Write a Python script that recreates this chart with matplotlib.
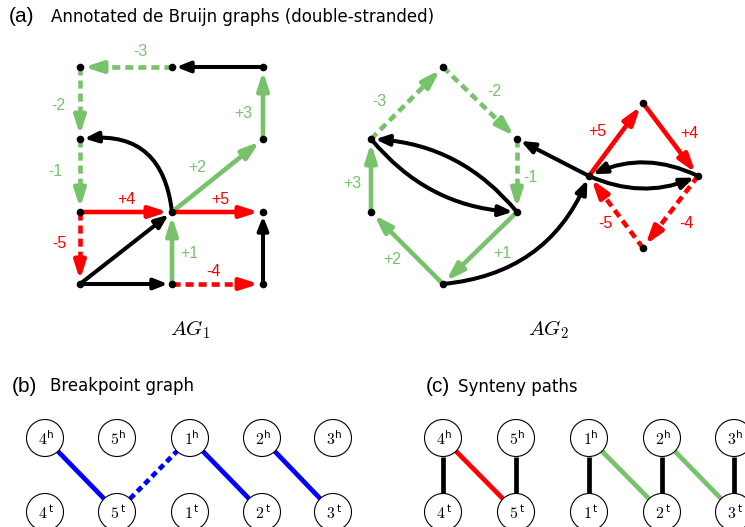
import numpy as np
import matplotlib
matplotlib.use('Agg')
import matplotlib.pyplot as plt
from matplotlib.patches import FancyArrowPatch, Circle

plt.rcParams['mathtext.fontset'] = 'cm'
plt.rcParams['lines.scale_dashes'] = False

GREEN = '#77c26b'
RED = '#ff0000'
BLUE = '#0000ff'
BLACK = '#000000'
COLORS = {'g': GREEN, 'r': RED, 'k': BLACK, 'b': BLUE}

# ---------------- data ----------------
# AG1: nodes
ag1_names = ['A', 'B', 'C', 'D', 'E', 'F', 'G', 'H', 'I', 'J', 'K']
ag1_x = [80, 172, 263, 80, 263, 80, 172, 263, 80, 172, 263]
ag1_y = [67, 67, 67, 139, 139, 212, 212, 212, 284, 284, 284]
# AG1 edges: source, target, label, colour, dashed, curvature
ag1_src = ['C', 'B', 'A', 'D', 'G', 'G', 'E', 'F', 'G', 'F', 'I', 'J', 'I', 'J', 'K']
ag1_dst = ['B', 'A', 'D', 'F', 'D', 'E', 'C', 'G', 'H', 'I', 'G', 'G', 'J', 'K', 'H']
ag1_lab = ['', '-3', '-2', '-1', '', '+2', '+3', '+4', '+5', '-5', '', '+1', '', '-4', '']
ag1_col = ['k', 'g', 'g', 'g', 'k', 'g', 'g', 'r', 'r', 'r', 'k', 'g', 'k', 'r', 'k']
ag1_dash = [0, 1, 1, 1, 0, 0, 0, 0, 0, 1, 0, 0, 0, 1, 0]
ag1_rad = [0, 0, 0, 0, 0.5, 0, 0, 0, 0, 0, 0, 0, 0, 0, 0]
ag1_lab_xy = [None, (140, 52), (58, 105), (55, 171), None, (197, 167), (243, 113),
              (126, 199), (220, 199), (59, 244), None, (189, 254), None, (213, 271), None]

# AG2: nodes
ag2_names = ['P', 'Q', 'R', 'S', 'T', 'U', 'V', 'W', 'X', 'Y']
ag2_x = [443, 371, 517, 371, 517, 443, 589, 643, 698, 643]
ag2_y = [67, 139, 139, 212, 212, 284, 176, 103, 176, 248]
ag2_src = ['Q', 'P', 'R', 'T', 'Q', 'T', 'U', 'S', 'U', 'V', 'V', 'W', 'X', 'V', 'X', 'Y']
ag2_dst = ['P', 'R', 'T', 'Q', 'T', 'U', 'S', 'Q', 'V', 'R', 'W', 'X', 'V', 'X', 'Y', 'V']
ag2_lab = ['-3', '-2', '-1', '', '', '+1', '+2', '+3', '', '', '+5', '+4', '', '', '-4', '-5']
ag2_col = ['g', 'g', 'g', 'k', 'k', 'g', 'g', 'g', 'k', 'k', 'r', 'r', 'k', 'k', 'r', 'r']
ag2_dash = [1, 1, 1, 0, 0, 0, 0, 0, 0, 0, 0, 0, 0, 0, 1, 1]
ag2_rad = [0, 0, 0, 0.22, 0.22, 0, 0, 0, 0.3, 0, 0, 0, 0.24, 0.22, 0, 0]
ag2_lab_xy = [(379, 101), (494, 92), (530, 177), None, None, (502, 253), (392, 260),
              (352, 183), None, None, (597, 132), (689, 133), None, None, (686, 223), (605, 224)]

# Breakpoint graph / synteny paths
genes = ['4', '5', '1', '2', '3']
bp_x = [45, 117, 190, 262, 333]
sy_x = [443, 516, 589, 662, 734]
row_y = {'h': 438, 't': 512}
bp_edges = [('4h', '5t', 'b', 0), ('5t', '1h', 'b', 1), ('1h', '2t', 'b', 0), ('2h', '3t', 'b', 0)]
sy_edges = [('4h', '4t', 'k', 0), ('4h', '5t', 'r', 0), ('5h', '5t', 'k', 0), ('1h', '1t', 'k', 0),
            ('1h', '2t', 'g', 0), ('2h', '2t', 'k', 0), ('2h', '3t', 'g', 0), ('3h', '3t', 'k', 0)]

# ---------------- drawing ----------------
fig = plt.figure(figsize=(7.45, 5.27), dpi=100)
ax = fig.add_axes([0, 0, 1, 1])
ax.set_xlim(0, 745)
ax.set_ylim(527, 0)
ax.axis('off')

PX = 0.72  # points per pixel
SHRINK = 3.0


def draw_edge(p0, p1, color, dashed, rad):
    if color == BLACK:
        lw, hl, hw = 2.9, 8.0, 3.2
    else:
        lw, hl, hw = 3.3, 10.5, 3.4
    style = f'-|>,head_length={hl},head_width={hw}'
    if not dashed:
        a = FancyArrowPatch(p0, p1, arrowstyle=style, connectionstyle=f'arc3,rad={rad}',
                            mutation_scale=1, color=color, lw=lw, shrinkA=0, shrinkB=SHRINK,
                            zorder=2)
        ax.add_patch(a)
    else:
        p0 = np.array(p0, float)
        p1 = np.array(p1, float)
        d = p1 - p0
        u = d / np.hypot(*d)
        back = hl / PX + SHRINK / PX + 1.0
        pm = p1 - u * back
        ax.plot([p0[0], pm[0]], [p0[1], pm[1]], color=color, lw=lw, dashes=(5.8, 3.6),
                dash_capstyle='butt', zorder=2)
        a = FancyArrowPatch(tuple(pm - u * 0.8), tuple(p1), arrowstyle=style,
                            mutation_scale=1, color=color, lw=lw, shrinkA=0, shrinkB=SHRINK,
                            zorder=2)
        ax.add_patch(a)


def draw_graph(names, xs, ys, src, dst, lab, col, dash, rad, lab_xy):
    pos = {n: (x, y) for n, x, y in zip(names, xs, ys)}
    for s, t, l, c, d, r, lxy in zip(src, dst, lab, col, dash, rad, lab_xy):
        draw_edge(pos[s], pos[t], COLORS[c], d, r)
        if l:
            ax.text(lxy[0], lxy[1], l, color=COLORS[c], fontsize=11.5,
                    family='Liberation Sans', ha='center', va='center')
    ax.scatter(xs, ys, s=30, color='black', zorder=5, linewidths=0)


draw_graph(ag1_names, ag1_x, ag1_y, ag1_src, ag1_dst, ag1_lab, ag1_col, ag1_dash, ag1_rad, ag1_lab_xy)
draw_graph(ag2_names, ag2_x, ag2_y, ag2_src, ag2_dst, ag2_lab, ag2_col, ag2_dash, ag2_rad, ag2_lab_xy)

ax.text(190, 330, r'$AG_1$', fontsize=15, ha='center', va='center')
ax.text(548, 330, r'$AG_2$', fontsize=15, ha='center', va='center')

R = 18.5


def draw_circles(xs, edges):
    pos = {}
    for g, x in zip(genes, xs):
        for end in ('h', 't'):
            pos[g + end] = np.array([x, row_y[end]], float)
    for a, b, c, d in edges:
        pa, pb = pos[a], pos[b]
        u = (pb - pa) / np.hypot(*(pb - pa))
        qa, qb = pa + u * R, pb - u * R
        kw = dict(color=COLORS[c], lw=3.4, solid_capstyle='butt', zorder=2)
        if d:
            kw['dashes'] = (4.5, 3.0)
            kw['dash_capstyle'] = 'butt'
        ax.plot([qa[0], qb[0]], [qa[1], qb[1]], **kw)
    for g, x in zip(genes, xs):
        for end in ('h', 't'):
            p = pos[g + end]
            ax.add_patch(Circle(p, R, facecolor='white', edgecolor='black', lw=0.8, zorder=3))
            ax.text(p[0] - 2, p[1] + 1, r'$%s$' % g, fontsize=11.5,
                    ha='center', va='center', zorder=4)
            ax.text(p[0] + 5.5, p[1] - 3.5, end, fontsize=7.5, family='DejaVu Sans',
                    ha='center', va='center', zorder=4)


draw_circles(bp_x, bp_edges)
draw_circles(sy_x, sy_edges)

# titles
ax.text(9, 17, '(a)', fontsize=15, family='Liberation Sans', va='center', ha='left')
ax.text(51, 17, 'Annotated de Bruijn graphs (double-stranded)', fontsize=12, family='DejaVu Sans',
        va='center', ha='left')
ax.text(12, 386, '(b)', fontsize=15, family='Liberation Sans', va='center', ha='left')
ax.text(50, 386, 'Breakpoint graph', fontsize=12, family='DejaVu Sans', va='center', ha='left')
ax.text(426, 387, '(c)', fontsize=15, family='Liberation Sans', va='center', ha='left')
ax.text(458, 387, 'Synteny paths', fontsize=12, family='DejaVu Sans', va='center', ha='left')

fig.savefig('out.png', dpi=100)
